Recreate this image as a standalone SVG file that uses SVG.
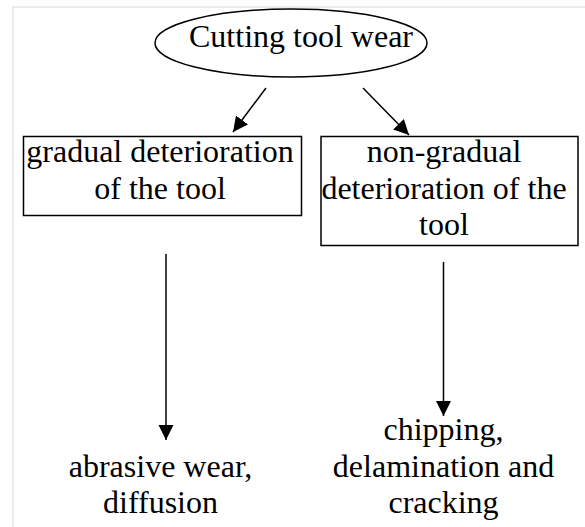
<svg xmlns="http://www.w3.org/2000/svg" width="585" height="527" viewBox="0 0 585 527">
  <style>
    .shape { fill: #ffffff; stroke: #000000; stroke-width: 1.5; }
    .conn { stroke: #000000; stroke-width: 1.5; fill: none; }
    .label { font-family: 'Liberation Serif', 'DejaVu Serif', serif; font-size: 32px; fill: #000000; text-anchor: middle; }
  </style>
  <defs>
    <marker id="arrow" markerUnits="userSpaceOnUse" markerWidth="16" markerHeight="16" refX="15" refY="7.5" orient="auto">
      <path d="M0,0 L15,7.5 L0,15 Z" fill="#000000"/>
    </marker>
  </defs>
  <rect width="585" height="527" fill="#ffffff"/>
  <polyline points="13,527 13,7 585,7" fill="none" stroke="#ececec" stroke-width="2"/>

  <g id="node-root">
    <ellipse class="shape" cx="291" cy="43" rx="136" ry="34"/>
    <text class="label" x="301" y="47">Cutting tool wear</text>
  </g>

  <g id="node-gradual">
    <rect class="shape" x="23.5" y="136.5" width="278" height="79"/>
    <text class="label" x="160" y="162">gradual deterioration</text>
    <text class="label" x="160" y="198.5">of the tool</text>
  </g>

  <g id="node-nongradual">
    <rect class="shape" x="321" y="136.5" width="257" height="109"/>
    <text class="label" x="444" y="162">non-gradual</text>
    <text class="label" x="444" y="199">deterioration of the</text>
    <text class="label" x="444" y="235">tool</text>
  </g>

  <g id="node-abrasive">
    <text class="label" x="160.5" y="477">abrasive wear,</text>
    <text class="label" x="160.5" y="513">diffusion</text>
  </g>

  <g id="node-chipping">
    <text class="label" x="443.5" y="440">chipping,</text>
    <text class="label" x="443.5" y="477">delamination and</text>
    <text class="label" x="443.5" y="513">cracking</text>
  </g>

  <g id="connectors">
    <line class="conn" x1="266" y1="88" x2="233" y2="132" marker-end="url(#arrow)"/>
    <line class="conn" x1="363" y1="88" x2="409" y2="135" marker-end="url(#arrow)"/>
    <line class="conn" x1="166" y1="254" x2="166" y2="440" marker-end="url(#arrow)"/>
    <line class="conn" x1="443.5" y1="262" x2="443.5" y2="416" marker-end="url(#arrow)"/>
  </g>
</svg>
